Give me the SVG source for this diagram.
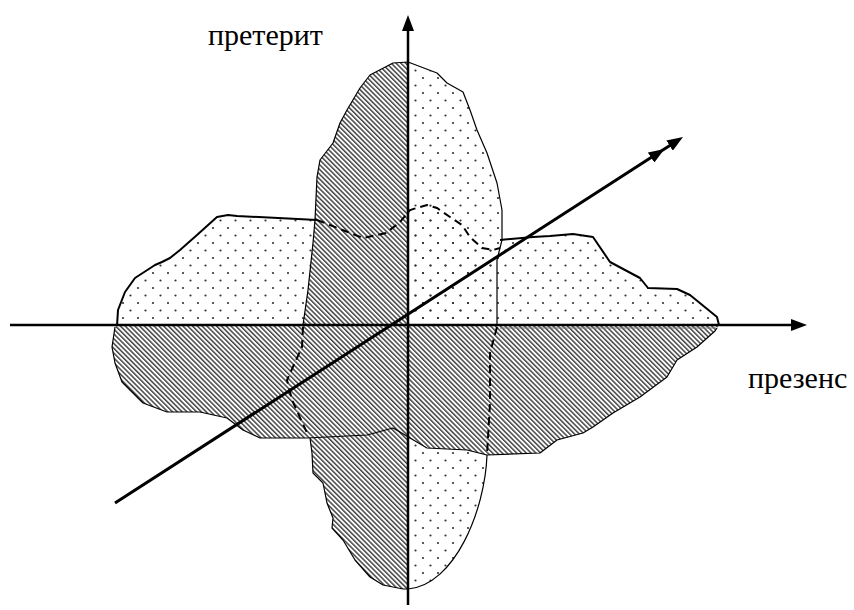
<svg xmlns="http://www.w3.org/2000/svg" width="854" height="610" viewBox="0 0 854 610">
<style>
.txt{font-family:"Liberation Serif","DejaVu Serif","Times New Roman",serif;font-size:30px;fill:#000}
.thin{fill:none;stroke:#000;stroke-width:1.2;stroke-linejoin:round}
.thick{fill:none;stroke:#000;stroke-width:2;stroke-linejoin:round}
.dash{fill:none;stroke:#000;stroke-width:2;stroke-dasharray:8 5}
.axis{fill:none;stroke:#000;stroke-width:2.5}
</style>
<defs>
<pattern id="dots" patternUnits="userSpaceOnUse" width="15" height="15">
<circle cx="3" cy="3" r="1.1" fill="#333"/>
<circle cx="10.5" cy="10.5" r="1.1" fill="#333"/>
</pattern>
<pattern id="hatch" patternUnits="userSpaceOnUse" width="3.4" height="10" patternTransform="rotate(-45)">
<rect x="0" y="0" width="1.5" height="10" fill="#444"/>
</pattern>
<clipPath id="cl"><rect x="0" y="0" width="408" height="610"/></clipPath>
<clipPath id="cr"><rect x="408" y="0" width="446" height="610"/></clipPath>
<clipPath id="ct"><rect x="0" y="0" width="854" height="326"/></clipPath>
<clipPath id="cb"><rect x="0" y="326" width="854" height="284"/></clipPath>
<path id="vshape" d="M408,62 L437,73 L447,83 L463,92 L470,110 L477,130 L487,153 L497,183 L502,210 L502,240 L497,260 L497,325 L490,353 L490,403 L487,455 C485,510 455,585 408,589 L403,589 L383,585 L370,577 L355,560 L343,540 L332,528 L333,518 L327,503 L323,483 L313,473 L312,453 L310,438 L308,435 L292,400 L287,380 L302,347 L303,325 L308,290 L313,243 L315,220 L317,177 L320,160 L333,143 L340,123 L347,110 L360,88 L370,75 L393,63 Z"/>
<path id="hshape" d="M117,326 L118,310 L125,292 L135,278 L155,265 L162,262 L170,258 L180,250 L197,235 L217,217 L228,215 L237,216 L317,220 L340,229 L363,238 L386,233 L400,222 L410,210 L427,205 L437,208 L450,217 L462,225 L470,237 L482,248 L493,250 L500,248 L500,240 L533,237 L550,236 L573,234 L593,237 L610,262 L640,278 L648,288 L677,289 L690,295 L717,317 L719,325 L717,328 L715,331 L697,347 L677,360 L667,377 L640,397 L613,413 L593,427 L583,433 L557,440 L540,453 L487,455 L467,450 L427,448 L410,438 L400,432 L393,428 L367,435 L307,438 L260,438 L243,430 L227,418 L200,412 L167,412 L143,403 L122,382 L115,363 L112,347 L115,327 Z"/>
<marker id="arr" markerUnits="userSpaceOnUse" markerWidth="16" markerHeight="12" refX="6" refY="6" orient="auto">
<path d="M0,0 L16,6 L0,12 Z" fill="#000"/>
</marker>
</defs>

<g id="fills">
<use href="#vshape" fill="url(#dots)" clip-path="url(#cr)"/>
<use href="#hshape" fill="#fff" clip-path="url(#cb)"/>
<use href="#hshape" fill="url(#dots)" clip-path="url(#ct)"/>
<use href="#hshape" fill="url(#hatch)" clip-path="url(#cb)"/>
<use href="#vshape" fill="#fff" clip-path="url(#cl)"/>
<use href="#vshape" fill="url(#hatch)" clip-path="url(#cl)"/>
</g>

<g id="node-preterit">
<path class="thin" d="M497,325 L497,260 L502,240 L502,210 L497,183 L487,153 L477,130 L470,110 L463,92 L447,83 L437,73 L408,62 L393,63 L370,75 L360,88 L347,110 L340,123 L333,143 L320,160 L317,177 L315,220 L313,243 L308,290 L303,325"/>
<path class="dash" d="M497,327 L490,353 L490,403 L487,455"/>
<path class="dash" d="M303,327 L302,347 L287,380 L292,400 L308,435"/>
<path class="thin" d="M487,455 C485,510 455,585 408,589 L403,589 L383,585 L370,577 L355,560 L343,540 L332,528 L333,518 L327,503 L323,483 L313,473 L312,453 L310,438"/>
</g>

<g id="node-prezens">
<path class="thick" d="M117,326 L118,310 L125,292 L135,278 L155,265 L162,262 L170,258 L180,250 L197,235 L217,217 L228,215 L237,216 L317,220"/>
<path class="dash" d="M317,220 L340,229 L363,238 L386,233 L400,222 L410,210 L427,205 L437,208 L450,217 L462,225 L470,237 L482,248 L493,250 L500,248"/>
<path class="thick" d="M500,240 L533,237 L550,236 L573,234 L593,237 L610,262 L640,278 L648,288 L677,289 L690,295 L717,317 L719,325"/>
<path class="thin" d="M717,328 L715,331 L697,347 L677,360 L667,377 L640,397 L613,413 L593,427 L583,433 L557,440 L540,453 L487,455 L467,450 L427,448 L410,438 L400,432 L393,428 L367,435 L307,438 L260,438 L243,430 L227,418 L200,412 L167,412 L143,403 L122,382 L115,363 L112,347 L115,327"/>
<path d="M500,328 L716,328" fill="none" stroke="#777" stroke-width="1"/>
</g>

<g id="connectors">
<line class="axis" x1="408" y1="605" x2="408" y2="25" marker-end="url(#arr)"/>
<line class="axis" x1="10" y1="325" x2="797" y2="325" marker-end="url(#arr)"/>
<polyline fill="none" stroke="#000" stroke-width="3" points="115,503 656.1,154.3 674.6,142.4" marker-mid="url(#arr)" marker-end="url(#arr)"/>
</g>

<g id="labels">
<text class="txt" x="208" y="45">претерит</text>
<text class="txt" x="748" y="388">презенс</text>
</g>
</svg>
